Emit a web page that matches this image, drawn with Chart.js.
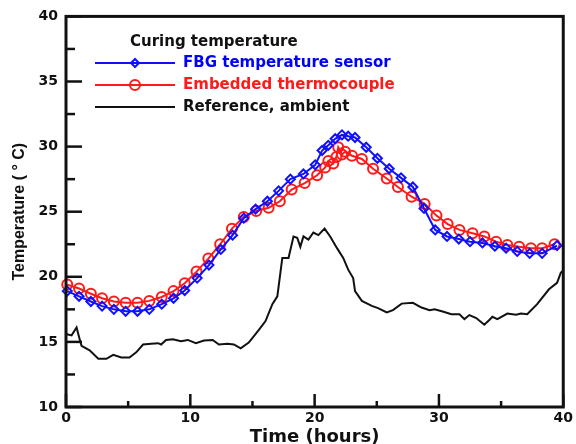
<!DOCTYPE html>
<html>
<head>
<meta charset="utf-8">
<title>Curing temperature</title>
<script src="https://cdn.jsdelivr.net/npm/chart.js"></script>
<style>
    body { margin: 0; background: #fff; }
    #wrap { width: 576px; height: 444px; }
</style>
</head>
<body>
<div id="wrap"><canvas id="tempChart" width="576" height="444"></canvas></div>
<script>
// Data (time in hours, temperature in deg C)
const fbgHours = [0.1, 1.05, 2.0, 2.9, 3.85, 4.8, 5.75, 6.7, 7.7, 8.65, 9.55, 10.55, 11.5, 12.45, 13.4,
    14.3, 15.25, 16.2, 17.1, 18.05, 19.1, 20.05, 20.6, 21.1, 21.65, 22.2, 22.7, 23.25, 24.15, 25.05,
    26.0, 26.95, 27.9, 28.8, 29.7, 30.65, 31.6, 32.5, 33.5, 34.5, 35.4, 36.3, 37.3, 38.3, 39.5];
const fbgTemps = [18.9, 18.5, 18.1, 17.75, 17.5, 17.35, 17.35, 17.5, 17.9, 18.35, 18.95, 19.9, 20.9, 22.1, 23.2,
    24.5, 25.2, 25.8, 26.6, 27.5, 27.9, 28.6, 29.7, 30.1, 30.6, 30.9, 30.8, 30.7, 29.95, 29.1,
    28.3, 27.6, 26.9, 25.25, 23.6, 23.1, 22.9, 22.7, 22.6, 22.35, 22.2, 21.95, 21.8, 21.8, 22.4];

const tcHours = [0.1, 1.05, 2.0, 2.9, 3.85, 4.8, 5.75, 6.7, 7.7, 8.65, 9.55, 10.5, 11.45, 12.4, 13.35,
    14.3, 15.3, 16.3, 17.2, 18.15, 19.2, 20.2, 20.85, 21.1, 21.5, 21.75, 21.9, 22.2, 22.45, 23.0,
    23.8, 24.7, 25.8, 26.7, 27.8, 28.85, 29.8, 30.7, 31.65, 32.7, 33.65, 34.6, 35.5, 36.45, 37.4,
    38.3, 39.3];
const tcTemps = [19.4, 19.1, 18.7, 18.35, 18.1, 18.0, 18.0, 18.15, 18.45, 18.9, 19.5, 20.4, 21.4, 22.5, 23.7,
    24.6, 25.05, 25.3, 25.8, 26.7, 27.2, 27.8, 28.4, 28.9, 28.7, 29.2, 29.95, 29.4, 29.6, 29.3,
    29.05, 28.3, 27.55, 26.9, 26.15, 25.6, 24.7, 24.05, 23.6, 23.35, 23.1, 22.7, 22.45, 22.3, 22.2,
    22.2, 22.5];

const ambHours = [0, 0.45, 0.85, 1.1, 1.25, 1.9, 2.6, 3.25, 3.8, 4.45, 5.1, 5.65, 6.2, 6.85, 7.4,
    7.65, 8.05, 8.6, 9.25, 9.8, 10.45, 11.1, 11.8, 12.3, 13.0, 13.5, 14.05, 14.7, 15.5, 16.05,
    16.6, 17.0, 17.4, 17.9, 18.3, 18.6, 18.85, 19.1, 19.5, 19.9, 20.3, 20.8, 21.25, 21.8, 22.3,
    22.7, 23.1, 23.25, 23.8, 24.6, 25.1, 25.8, 26.3, 27.0, 27.9, 28.6, 29.25, 29.65, 30.3, 31.0,
    31.65, 32.05, 32.45, 33.0, 33.65, 34.05, 34.3, 34.7, 35.5, 36.2, 36.6, 37.1, 37.9, 38.85, 39.5,
    39.8, 40];
const ambTemps = [15.6, 15.5, 16.1, 15.2, 14.7, 14.35, 13.7, 13.7, 14.0, 13.8, 13.8, 14.2, 14.8, 14.85, 14.9,
    14.8, 15.15, 15.2, 15.05, 15.15, 14.9, 15.1, 15.15, 14.8, 14.85, 14.8, 14.5, 14.95, 15.9, 16.6,
    17.9, 18.5, 21.45, 21.45, 23.1, 23.0, 22.3, 23.1, 22.85, 23.4, 23.2, 23.7, 23.1, 22.2, 21.45,
    20.55, 19.9, 18.9, 18.15, 17.77, 17.6, 17.26, 17.44, 17.94, 18.0, 17.64, 17.44, 17.5, 17.34, 17.13,
    17.13, 16.75, 17.06, 16.83, 16.32, 16.68, 16.93, 16.75, 17.18, 17.08, 17.18, 17.13, 17.9, 19.04, 19.54,
    20.3, 20.5];

const seriesNames = ['FBG temperature sensor', 'Embedded thermocouple', 'Reference, ambient'];
const legendTitle = 'Curing temperature';
const xTicks = [0, 10, 20, 30, 40];
const yTicks = [10, 15, 20, 25, 30, 35, 40];

// Turn two arrays into {x, y} points
function toPoints(xs, ys) {
    return xs.map((x, i) => ({ x: x, y: ys[i] }));
}

const boldFont = 'DejaVu Sans';

// Frame, inward ticks and the legend box are drawn here
const framePlugin = {
    id: 'framePlugin',
    afterDatasetsDraw(chart) {
        const ctx = chart.ctx;
        const area = chart.chartArea;
        const xs = chart.scales.x;
        const ys = chart.scales.y;

        ctx.save();
        ctx.strokeStyle = '#111';
        ctx.lineWidth = 2.5;

        // y ticks, major every 5, minor every 2.5
        for (let v = 10; v <= 40; v += 2.5) {
            const py = ys.getPixelForValue(v);
            const len = (v % 5 === 0) ? 16 : 9;
            ctx.beginPath();
            ctx.moveTo(area.left, py);
            ctx.lineTo(area.left + len, py);
            ctx.stroke();
        }
        // x ticks, major every 10, minor every 5
        for (let v = 0; v <= 40; v += 5) {
            const px = xs.getPixelForValue(v);
            const len = (v % 10 === 0) ? 13 : 6;
            ctx.beginPath();
            ctx.moveTo(px, area.bottom);
            ctx.lineTo(px, area.bottom - len);
            ctx.stroke();
        }

        // box around the plot
        ctx.lineWidth = 3;
        ctx.strokeRect(area.left, area.top, area.right - area.left, area.bottom - area.top);
        ctx.restore();
    },
    afterDraw(chart) {
        const ctx = chart.ctx;
        ctx.save();
        ctx.textBaseline = 'middle';
        ctx.textAlign = 'left';
        ctx.font = 'bold 15px "' + boldFont + '"';
        ctx.fillStyle = '#111';
        ctx.fillText(legendTitle, 130, 42);

        const rows = [63, 85, 107];
        chart.data.datasets.forEach((ds, i) => {
            const y = rows[i];
            ctx.strokeStyle = ds.borderColor;
            ctx.lineWidth = 2;
            ctx.beginPath();
            ctx.moveTo(95, y);
            ctx.lineTo(175, y);
            ctx.stroke();
            if (ds.pointStyle === 'rectRot') {
                ctx.beginPath();
                ctx.moveTo(131, y);
                ctx.lineTo(135, y - 4);
                ctx.lineTo(139, y);
                ctx.lineTo(135, y + 4);
                ctx.closePath();
                ctx.stroke();
            } else if (ds.pointStyle === 'circle' && ds.pointRadius > 0) {
                ctx.beginPath();
                ctx.arc(135, y, 5, 0, Math.PI * 2);
                ctx.stroke();
            }
            ctx.fillStyle = ds.legendColor;
            ctx.fillText(ds.label, 183, y);
        });
        ctx.restore();
    }
};

const ctx = document.getElementById('tempChart').getContext('2d');
const chart = new Chart(ctx, {
    type: 'line',
    data: {
        datasets: [
            {
                label: seriesNames[0],
                data: toPoints(fbgHours, fbgTemps),
                borderColor: '#1010ff',
                legendColor: '#0000ff',
                borderWidth: 2,
                pointStyle: 'rectRot',
                pointRadius: 4.5,
                pointBorderWidth: 2,
                pointBackgroundColor: 'rgba(0,0,0,0)',
                pointBorderColor: '#1010ff',
                clip: false
            },
            {
                label: seriesNames[1],
                data: toPoints(tcHours, tcTemps),
                borderColor: '#ff1a1a',
                legendColor: '#ff1a1a',
                borderWidth: 2,
                pointStyle: 'circle',
                pointRadius: 5,
                pointBorderWidth: 2,
                pointBackgroundColor: 'rgba(0,0,0,0)',
                pointBorderColor: '#ff1a1a',
                clip: false
            },
            {
                label: seriesNames[2],
                data: toPoints(ambHours, ambTemps),
                borderColor: '#111111',
                legendColor: '#111111',
                borderWidth: 2,
                pointStyle: 'circle',
                pointRadius: 0,
                clip: false
            }
        ]
    },
    options: {
        responsive: false,
        animation: false,
        devicePixelRatio: 1,
        layout: { padding: { top: 13, right: 10, left: 0, bottom: 0 } },
        plugins: {
            legend: { display: false },
            tooltip: { enabled: false }
        },
        elements: { line: { tension: 0 } },
        scales: {
            x: {
                type: 'linear',
                min: 0,
                max: 40,
                afterBuildTicks: s => { s.ticks = xTicks.map(v => ({ value: v })); },
                afterFit: s => { s.height = 37; },
                grid: { display: false, drawTicks: false },
                border: { display: false },
                ticks: {
                    padding: 3,
                    color: '#111',
                    font: { family: boldFont, size: 14, weight: 'bold' }
                },
                title: {
                    display: true,
                    text: 'Time (hours)',
                    color: '#111',
                    padding: { top: 0, bottom: -2 },
                    font: { family: boldFont, size: 18, weight: 'bold', lineHeight: 1 }
                }
            },
            y: {
                type: 'linear',
                min: 10,
                max: 40,
                afterBuildTicks: s => { s.ticks = yTicks.map(v => ({ value: v })); },
                afterFit: s => { s.width = 66; },
                grid: { display: false, drawTicks: false },
                border: { display: false },
                ticks: {
                    padding: 8,
                    color: '#111',
                    font: { family: boldFont, size: 14, weight: 'bold' }
                },
                title: {
                    display: true,
                    text: 'Temperature ( ° C)',
                    color: '#111',
                    padding: { top: 12, bottom: 0 },
                    font: { family: 'Liberation Sans', size: 16, weight: 'bold', lineHeight: 1 }
                }
            }
        }
    },
    plugins: [framePlugin]
});
</script>
</body>
</html>
